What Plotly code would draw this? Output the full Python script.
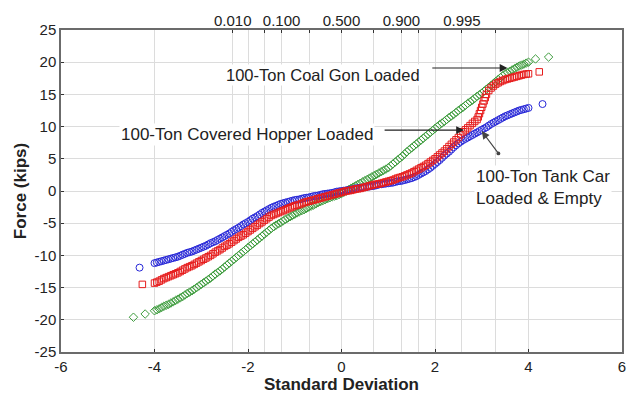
import plotly.graph_objects as go

# ---------------- data ----------------
# standard-deviation positions of the plotted order statistics (shared grid)
sd_grid = [
    -4.00, -3.95, -3.90, -3.85, -3.80, -3.75, -3.70, -3.65, -3.60, -3.55,
    -3.50, -3.45, -3.40, -3.35, -3.30, -3.25, -3.20, -3.15, -3.10, -3.05,
    -3.00, -2.95, -2.90, -2.85, -2.80, -2.75, -2.70, -2.65, -2.60, -2.55,
    -2.50, -2.45, -2.40, -2.35, -2.30, -2.25, -2.20, -2.15, -2.10, -2.05,
    -2.00, -1.95, -1.90, -1.85, -1.80, -1.75, -1.70, -1.65, -1.60, -1.55,
    -1.50, -1.45, -1.40, -1.35, -1.30, -1.25, -1.20, -1.15, -1.10, -1.05,
    -1.00, -0.95, -0.90, -0.85, -0.80, -0.75, -0.70, -0.65, -0.60, -0.55,
    -0.50, -0.45, -0.40, -0.35, -0.30, -0.25, -0.20, -0.15, -0.10, -0.05,
    0.00, 0.05, 0.10, 0.15, 0.20, 0.25, 0.30, 0.35, 0.40, 0.45,
    0.50, 0.55, 0.60, 0.65, 0.70, 0.75, 0.80, 0.85, 0.90, 0.95,
    1.00, 1.05, 1.10, 1.15, 1.20, 1.25, 1.30, 1.35, 1.40, 1.45,
    1.50, 1.55, 1.60, 1.65, 1.70, 1.75, 1.80, 1.85, 1.90, 1.95,
    2.00, 2.05, 2.10, 2.15, 2.20, 2.25, 2.30, 2.35, 2.40, 2.45,
    2.50, 2.55, 2.60, 2.65, 2.70, 2.75, 2.80, 2.85, 2.90, 2.95,
    3.00, 3.05, 3.10, 3.15, 3.20, 3.25, 3.30, 3.35, 3.40, 3.45,
    3.50, 3.55, 3.60, 3.65, 3.70, 3.75, 3.80, 3.85, 3.90, 3.95,
    4.00,
]

# 100-Ton Tank Car, Loaded & Empty (kips)
tank_y = [
    -11.2, -11.1, -11.0, -10.9, -10.8, -10.7, -10.6, -10.5, -10.4, -10.3,
    -10.2, -10.05, -9.9, -9.75, -9.6, -9.5, -9.4, -9.25, -9.1, -8.95,
    -8.8, -8.65, -8.5, -8.3, -8.1, -7.95, -7.8, -7.6, -7.4, -7.2,
    -7.0, -6.8, -6.6, -6.35, -6.1, -5.9, -5.7, -5.45, -5.2, -5.0,
    -4.8, -4.55, -4.3, -4.1, -3.9, -3.65, -3.4, -3.2, -3.0, -2.8,
    -2.6, -2.45, -2.3, -2.15, -2.0, -1.9, -1.8, -1.7, -1.6, -1.5,
    -1.4, -1.35, -1.3, -1.2, -1.1, -1.05, -1.0, -0.9, -0.8, -0.75,
    -0.7, -0.6, -0.5, -0.45, -0.4, -0.35, -0.3, -0.2, -0.1, -0.05,
    0.0, 0.05, 0.1, 0.15, 0.2, 0.3, 0.4, 0.45, 0.5, 0.55,
    0.6, 0.65, 0.7, 0.75, 0.8, 0.9, 1.0, 1.05, 1.1, 1.15,
    1.2, 1.25, 1.3, 1.4, 1.5, 1.55, 1.6, 1.7, 1.8, 1.9,
    2.0, 2.15, 2.3, 2.5, 2.7, 2.9, 3.1, 3.35, 3.6, 3.9,
    4.2, 4.5, 4.8, 5.15, 5.5, 5.8, 6.1, 6.45, 6.8, 7.1,
    7.4, 7.65, 7.9, 8.1, 8.3, 8.5, 8.7, 8.9, 9.1, 9.3,
    9.5, 9.7, 9.9, 10.15, 10.4, 10.6, 10.8, 11.0, 11.2, 11.4,
    11.6, 11.75, 11.9, 12.05, 12.2, 12.35, 12.5, 12.6, 12.7, 12.8,
    12.9,
]
tank_tail_x = [-4.32, 4.30]
tank_tail_y = [-11.9, 13.5]

# 100-Ton Covered Hopper Loaded (kips)
hopper_y = [
    -14.3, -14.15, -14.0, -13.8, -13.6, -13.45, -13.3, -13.15, -13.0, -12.85,
    -12.7, -12.5, -12.3, -12.1, -11.9, -11.75, -11.6, -11.4, -11.2, -11.0,
    -10.8, -10.6, -10.4, -10.2, -10.0, -9.75, -9.5, -9.3, -9.1, -8.85,
    -8.6, -8.4, -8.2, -7.95, -7.7, -7.45, -7.2, -7.0, -6.8, -6.55,
    -6.3, -6.05, -5.8, -5.55, -5.3, -5.05, -4.8, -4.55, -4.3, -4.05,
    -3.8, -3.65, -3.5, -3.35, -3.2, -3.05, -2.9, -2.75, -2.6, -2.45,
    -2.3, -2.2, -2.1, -1.95, -1.8, -1.7, -1.6, -1.5, -1.4, -1.3,
    -1.2, -1.1, -1.0, -0.9, -0.8, -0.7, -0.6, -0.5, -0.4, -0.3,
    -0.2, -0.1, 0.0, 0.05, 0.1, 0.2, 0.3, 0.35, 0.4, 0.5,
    0.6, 0.7, 0.8, 0.9, 1.0, 1.05, 1.1, 1.2, 1.3, 1.4,
    1.5, 1.6, 1.7, 1.85, 2.0, 2.1, 2.2, 2.35, 2.5, 2.65,
    2.8, 3.0, 3.2, 3.4, 3.6, 3.8, 4.0, 4.25, 4.5, 4.75,
    5.0, 5.3, 5.6, 5.9, 6.2, 6.55, 6.9, 7.25, 7.6, 7.95,
    8.3, 8.75, 9.2, 9.5, 9.8, 10.15, 10.5, 10.8, 11.1, 12.0,
    13.0, 14.0, 15.0, 15.6, 16.0, 16.3, 16.6, 16.8, 17.0, 17.15,
    17.3, 17.4, 17.5, 17.6, 17.7, 17.8, 17.9, 18.0, 18.1, 18.15,
    18.2,
]
hopper_tail_x = [-4.26, 2.925, 2.975, 3.025, 3.075, 4.23]
hopper_tail_y = [-14.5, 11.5, 12.5, 13.5, 14.5, 18.5]

# 100-Ton Coal Gon Loaded (kips)
gon_y = [
    -18.6, -18.45, -18.3, -18.1, -17.9, -17.75, -17.6, -17.4, -17.2, -17.0,
    -16.8, -16.6, -16.4, -16.15, -15.9, -15.7, -15.5, -15.25, -15.0, -14.75,
    -14.5, -14.25, -14.0, -13.75, -13.5, -13.2, -12.9, -12.65, -12.4, -12.1,
    -11.8, -11.5, -11.2, -10.9, -10.6, -10.3, -10.0, -9.7, -9.4, -9.1,
    -8.8, -8.5, -8.2, -7.9, -7.6, -7.3, -7.0, -6.7, -6.4, -6.1,
    -5.8, -5.55, -5.3, -5.1, -4.9, -4.65, -4.4, -4.2, -4.0, -3.8,
    -3.6, -3.4, -3.2, -3.05, -2.9, -2.7, -2.5, -2.35, -2.2, -2.0,
    -1.8, -1.65, -1.5, -1.35, -1.2, -1.05, -0.9, -0.8, -0.7, -0.55,
    -0.4, -0.2, 0.0, 0.2, 0.4, 0.6, 0.8, 1.0, 1.2, 1.4,
    1.6, 1.8, 2.0, 2.2, 2.4, 2.6, 2.8, 3.0, 3.2, 3.4,
    3.6, 3.9, 4.2, 4.5, 4.8, 5.1, 5.4, 5.75, 6.1, 6.4,
    6.7, 7.0, 7.3, 7.6, 7.9, 8.2, 8.5, 8.8, 9.1, 9.4,
    9.7, 10.0, 10.3, 10.55, 10.8, 11.1, 11.4, 11.65, 11.9, 12.2,
    12.5, 12.75, 13.0, 13.3, 13.6, 13.85, 14.1, 14.4, 14.7, 14.95,
    15.2, 15.5, 15.8, 16.1, 16.4, 16.7, 17.0, 17.3, 17.6, 17.9,
    18.2, 18.4, 18.6, 18.8, 19.0, 19.2, 19.4, 19.55, 19.7, 19.85,
    20.0,
]
gon_tail_x = [-4.45, -4.20, 4.15, 4.43]
gon_tail_y = [-19.6, -19.1, 20.5, 20.8]

# axes
sd_ticks = [-6, -4, -2, 0, 2, 4, 6]
force_ticks = [-25, -20, -15, -10, -5, 0, 5, 10, 15, 20, 25]
# top probability axis (positions in standard deviations, labels)
prob_pos = [-2.326, -1.645, -1.282, -0.674, 0.0, 0.674, 1.282, 1.645, 2.576, 3.291]
prob_text = ["0.010", "", "0.100", "", "0.500", "", "0.900", "", "0.995", ""]

FONT = "Liberation Sans, Arial, sans-serif"
GRID = "#dcdcdc"
FRAME = "#6b6b6b"

fig = go.Figure()
fig.add_trace(go.Scatter(x=gon_tail_x[:2] + sd_grid + gon_tail_x[2:],
                         y=gon_tail_y[:2] + gon_y + gon_tail_y[2:],
                         mode="markers", name="100-Ton Coal Gon Loaded",
                         marker=dict(symbol="diamond-open", size=6.5, color="#3d9c3d", line=dict(width=1))))
fig.add_trace(go.Scatter(x=tank_tail_x[:1] + sd_grid + tank_tail_x[1:],
                         y=tank_tail_y[:1] + tank_y + tank_tail_y[1:],
                         mode="markers", name="100-Ton Tank Car",
                         marker=dict(symbol="circle-open", size=7, color="#2828d8", line=dict(width=1))))
fig.add_trace(go.Scatter(x=sd_grid + hopper_tail_x, y=hopper_y + hopper_tail_y,
                         mode="markers", name="100-Ton Covered Hopper Loaded",
                         marker=dict(symbol="square-open", size=6.5, color="#e61c1c", line=dict(width=1))))
# invisible trace to bind the top axis
fig.add_trace(go.Scatter(x=[sd_ticks[0]], y=[force_ticks[0]], xaxis="x2", mode="markers",
                         marker=dict(opacity=0), hoverinfo="skip", showlegend=False))

fig.update_layout(
    width=629, height=400,
    margin=dict(l=61, r=3, t=30, b=48),
    paper_bgcolor="white", plot_bgcolor="white",
    showlegend=False,
    font=dict(family=FONT, size=15, color="#222"),
    xaxis=dict(range=[-6, 6], tickvals=sd_ticks, ticktext=[str(v) for v in sd_ticks],
               showgrid=True, gridcolor=GRID, gridwidth=1, zeroline=False,
               showline=True, mirror=True, linecolor=FRAME, linewidth=1.5,
               ticks="inside", ticklen=3, tickcolor="#333",
               tickfont=dict(size=15),
               title=dict(text="<b>Standard Deviation</b>", font=dict(size=17), standoff=4)),
    xaxis2=dict(range=[-6, 6], overlaying="x", side="top", tickvals=prob_pos, ticktext=prob_text,
                showgrid=True, gridcolor=GRID, gridwidth=1, zeroline=False, showline=False,
                ticks="inside", ticklen=3, tickcolor="#333", tickfont=dict(size=15)),
    yaxis=dict(range=[-25, 25], tickvals=force_ticks, ticktext=[str(v) for v in force_ticks],
               showgrid=True, gridcolor=GRID, gridwidth=1, zeroline=False,
               showline=True, mirror=True, linecolor=FRAME, linewidth=1.5,
               ticks="inside", ticklen=3, tickcolor="#333", tickfont=dict(size=15),
               title=dict(text="<b>Force (kips)</b>", font=dict(size=17), standoff=4)),
)

# text labels
fig.add_annotation(x=-0.40, y=18.0, text="100-Ton Coal Gon Loaded", showarrow=False,
                   font=dict(size=16.5, color="#222"), bgcolor="white")
fig.add_annotation(x=-2.02, y=8.7, text="100-Ton Covered Hopper Loaded", showarrow=False,
                   font=dict(size=17, color="#222"), bgcolor="white")
fig.add_annotation(x=4.32, y=0.5, text="100-Ton Tank Car<br>Loaded & Empty", showarrow=False,
                   align="left", font=dict(size=17, color="#222"), bgcolor="white")

# arrows
fig.add_annotation(x=3.55, y=19.1, ax=1.91, ay=19.1, axref="x", ayref="y", xref="x", yref="y",
                   text="", showarrow=True, arrowhead=2, arrowsize=1.3, arrowwidth=1.2, arrowcolor="#222")
fig.add_annotation(x=2.62, y=9.46, ax=0.89, ay=9.46, axref="x", ayref="y", xref="x", yref="y",
                   text="", showarrow=True, arrowhead=2, arrowsize=1.3, arrowwidth=1.2, arrowcolor="#222")
fig.add_annotation(x=3.00, y=9.3, ax=3.38, ay=5.6, axref="x", ayref="y", xref="x", yref="y",
                   text="", showarrow=True, arrowhead=2, arrowsize=1.3, arrowwidth=1.2, arrowcolor="#444",
                   arrowside="end+start", startarrowhead=6, startarrowsize=0.8)

fig.write_html("out.html")
